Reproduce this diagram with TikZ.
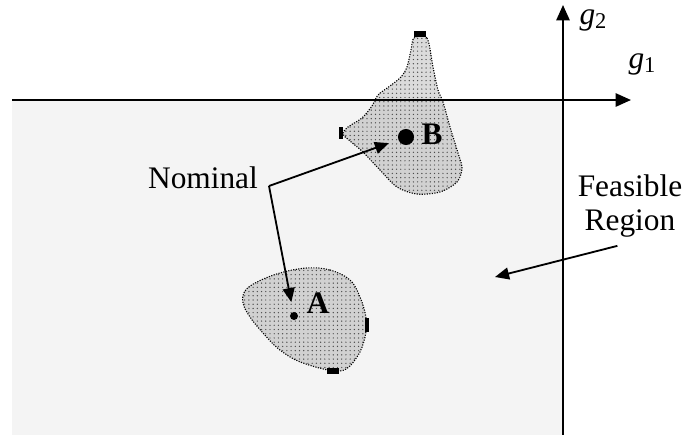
\documentclass[tikz,border=0pt]{standalone}
\usepackage{fontspec}
\setmainfont{Liberation Serif}
\usetikzlibrary{arrows.meta,patterns}

\begin{document}
\begin{tikzpicture}[x=0.025cm, y=-0.025cm,
    lbl/.style={font=\fontsize{22.3}{24}\selectfont, inner sep=0pt},
    lblb/.style={font=\fontsize{22.3}{24}\selectfont\bfseries, inner sep=0pt},
    arrow/.style={-{Triangle[length=10pt,width=8.5pt]}, line width=1.3pt},
    axis/.style={-{Triangle[length=11pt,width=9.5pt]}, line width=1.4pt},
    blob/.style={draw, densely dotted, line width=0.8pt, fill=black, fill opacity=0.14,
                 postaction={pattern=dots, pattern color=black!70, fill opacity=1}},
    stub/.style={fill=black, inner sep=0pt},
    spot/.style={circle, fill=black, inner sep=0pt},
  ]
  \useasboundingbox (0,0) rectangle (686,435);
  % feasible region
  \fill[gray!9] (12,100) rectangle (563,435);

  % tolerance regions round the two designs
  \path[blob] plot[smooth cycle, tension=0.6] coordinates {(307,268) (330,270) (350,280)
    (360,297) (366,318) (365,337) (357,357) (340,371) (303,363) (280,350) (263,333)
    (250,317) (243,303) (245,291) (257,282) (280,273)};
  \path[blob] plot[smooth cycle, tension=0.5] coordinates {(414,38) (427,38) (433,67)
    (438,90) (443,102) (450,127) (458,153) (462,168) (457,182) (440,192) (417,194)
    (397,187) (380,170) (363,152) (350,141) (343,134) (348,127) (362,118) (372,106)
    (378,95) (390,86) (401,77) (407,67) (411,50)};

  \node[stub, minimum width=2.8pt, minimum height=10pt] (aright) at (367,325) {};
  \node[stub, minimum width=9.2pt, minimum height=4.3pt] (abot)  at (333,371) {};
  \node[stub, minimum width=9.2pt, minimum height=3.6pt] (btop)  at (420,34)  {};
  \node[stub, minimum width=2.8pt, minimum height=9.2pt] (bleft) at (341,133) {};

  % axes
  \coordinate (xstart) at (12,100);
  \coordinate (xend)   at (631,100);
  \coordinate (ystart) at (563,435);
  \coordinate (yend)   at (563,5);
  \draw[axis] (xstart) -- (xend);
  \draw[axis] (ystart) -- (yend);
  \node[lbl] (gone) at (642,64) {\textit{g}\raisebox{-0.3ex}{\fontsize{16}{16}\selectfont 1}};
  \node[lbl] (gtwo) at (593,20) {\textit{g}\raisebox{-0.3ex}{\fontsize{16}{16}\selectfont 2}};

  % designs
  \node[spot, minimum size=5.7pt]  (dotA) at (294,316) {};
  \node[spot, minimum size=11.4pt] (dotB) at (406,137) {};
  \node[lblb] (labA) at (318,303) {A};
  \node[lblb] (labB) at (432,134) {B};

  \node[lbl, anchor=base] (nominal) at (203,188) {Nominal};
  \coordinate (split) at (269,186);
  \draw[arrow, shorten >=7pt] (split) -- (dotB);
  \draw[arrow, shorten >=7pt] (split) -- (dotA);

  \node[lbl, align=center] (feas) at (630,206) {Feasible\\Region};
  \coordinate (frtip) at (495,277);
  \draw[arrow] ([xshift=-9pt,yshift=-6pt]feas.south) -- (frtip);
\end{tikzpicture}
\end{document}
